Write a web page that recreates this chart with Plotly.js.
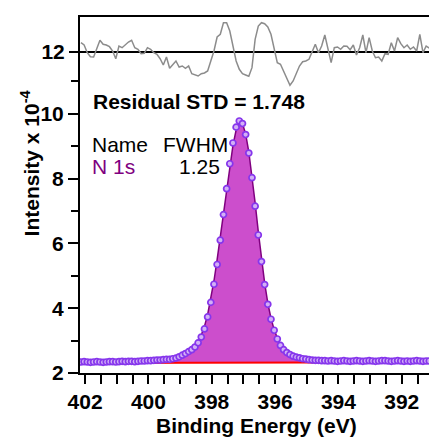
<!DOCTYPE html>
<html>
<head>
<meta charset="utf-8">
<script src="https://cdn.plot.ly/plotly-3.0.1.min.js"></script>
<style>html,body{margin:0;padding:0;background:#fff;}#chart{width:429px;height:442px;}</style>
</head>
<body>
<div id="chart"></div>
<script>
// Binding energy grid (eV): start and step of the measured points
const energyStart = 402.13;
const energyStep = -0.1;

// Measured intensity (x 10^-4)
const intensity = [
  2.34,2.35,2.34,2.33,2.34,2.35,2.34,2.33,2.34,2.35,
  2.35,2.34,2.35,2.36,2.35,2.36,2.36,2.35,2.36,2.37,
  2.37,2.38,2.38,2.39,2.40,2.40,2.41,2.42,2.42,2.44,
  2.46,2.50,2.55,2.60,2.66,2.72,2.80,2.93,3.11,3.36,
  3.73,4.18,4.74,5.35,6.10,6.89,7.69,8.46,9.10,9.59,
  9.78,9.70,9.36,8.79,8.03,7.15,6.26,5.44,4.73,4.12,
  3.66,3.32,3.05,2.85,2.72,2.63,2.57,2.52,2.49,2.47,
  2.44,2.43,2.41,2.40,2.39,2.39,2.38,2.38,2.37,2.38,
  2.37,2.36,2.37,2.38,2.37,2.36,2.37,2.38,2.37,2.36,
  2.37,2.38,2.37,2.36,2.37,2.38,2.38,2.37,2.36,2.37,
  2.38,2.37,2.36,2.37,2.36,2.37,2.38,2.37,2.36,2.37,2.37
];

// Fit envelope (N 1s component + background)
const fitEnvelope = [
  2.335,2.336,2.337,2.338,2.339,2.340,2.341,2.342,2.343,2.344,
  2.346,2.347,2.349,2.350,2.352,2.354,2.357,2.359,2.362,2.366,
  2.370,2.374,2.379,2.385,2.392,2.400,2.410,2.422,2.437,2.456,
  2.48,2.51,2.55,2.60,2.66,2.74,2.84,2.98,3.17,3.44,
  3.80,4.27,4.84,5.50,6.22,6.97,7.72,8.42,9.03,9.50,
  9.76,9.70,9.38,8.83,8.10,7.25,6.36,5.52,4.78,4.16,
  3.69,3.34,3.08,2.89,2.76,2.66,2.59,2.54,2.50,2.47,
  2.45,2.43,2.42,2.41,2.40,2.395,2.39,2.385,2.38,2.378,
  2.376,2.374,2.372,2.370,2.369,2.368,2.367,2.366,2.365,2.364,
  2.363,2.362,2.361,2.361,2.360,2.360,2.359,2.359,2.358,2.358,
  2.358,2.357,2.357,2.357,2.356,2.356,2.356,2.356,2.355,2.355,2.355
];

// Background line endpoints
const backgroundEnergy = [402.13, 391.13];
const backgroundValue = [2.31, 2.33];

// Residual (arbitrary units, zero = reference line)
const residual = [
  0.93,0.7,-0.07,-0.47,-0.5,0.43,1.17,0.77,0.7,0.53,
  0.1,-0.67,0.6,0.43,0.77,1.0,1.17,0.43,0.27,-0.17,
  -0.13,0.43,0.27,-0.07,-0.23,-0.67,-1.3,-0.5,-1.63,-1.23,
  -0.9,-1.5,-1.4,-1.63,-1.4,-2.17,-2.3,-2.4,-2.17,-2.1,
  -1.9,-0.9,0.1,1.5,1.77,2.93,2.93,2.1,0.6,-0.9,
  -1.73,-2.17,-2.3,-2.43,-1.57,1.27,2.6,2.93,2.83,2.5,
  1.77,0.43,-1.07,-1.23,-1.97,-2.73,-3.33,-2.9,-2.23,-1.4,
  -0.97,-0.9,-0.73,0.1,0.77,-0.07,0.6,1.7,0.27,-1.07,
  0.43,0.5,0.27,0.6,0.57,0.23,0.7,-0.3,0.43,1.7,
  -0.07,1.43,0.1,-0.57,-0.5,-0.9,-0.17,-0.23,0.93,0.1,
  1.43,0.83,0.43,0.7,0.27,0.5,0.1,1.77,-0.07,0.6,0.4
];

const xTicks = [402, 400, 398, 396, 394, 392];
const yTicks = [2, 4, 6, 8, 10];
const yMinorTicks = [3, 5, 7, 9, 11];
const residualAxisTick = [12];

const peakName = "N 1s";
const peakFWHM = "1.25";
const residualSTD = "1.748";

const FONT = "Liberation Sans, Arial, sans-serif";

const traces = [
  {
    x: backgroundEnergy, y: backgroundValue, mode: "lines",
    line: {color: "#FF0000", width: 2}, hoverinfo: "skip", showlegend: false
  },
  {
    x0: energyStart, dx: energyStep, y: fitEnvelope, mode: "lines",
    fill: "tonexty", fillcolor: "#CC4ECC",
    line: {color: "#800080", width: 1.5}, showlegend: false
  },
  {
    x0: energyStart, dx: energyStep, y: intensity, mode: "markers",
    marker: {symbol: "circle", size: 6, color: "#D2B0F6",
             line: {color: "#8636EC", width: 1.7}},
    showlegend: false
  },
  {
    x0: energyStart, dx: energyStep, y: residual, yaxis: "y3", mode: "lines",
    line: {color: "#8C8C8C", width: 1.5}, showlegend: false
  },
  // empty trace so the residual-panel axis (y2) is laid out
  { x: [], y: [], yaxis: "y2", mode: "lines", showlegend: false, hoverinfo: "skip" }
];

const tickFont = {family: FONT, size: 21, color: "#000", weight: "bold"};

const layout = {
  width: 429, height: 442,
  margin: {l: 80, r: 0, t: 17, b: 69},
  paper_bgcolor: "#fff", plot_bgcolor: "#fff",
  showlegend: false,
  xaxis: {
    range: [402.16, 391.14], tickmode: "array", tickvals: xTicks,
    ticks: "outside", ticklen: 9, tickwidth: 2, tickcolor: "#000",
    minor: {dtick: 0.5, tick0: 392, ticks: "outside", ticklen: 9, tickwidth: 2, tickcolor: "#000", showgrid: false},
    showline: true, linecolor: "#000", linewidth: 2, mirror: true,
    showgrid: false, zeroline: false, tickfont: tickFont
  },
  yaxis: {
    range: [2.0, 12.99], tickmode: "array", tickvals: yTicks,
    ticks: "outside", ticklen: 10, tickwidth: 2, tickcolor: "#000",
    minor: {tickmode: "array", tickvals: yMinorTicks, ticks: "outside", ticklen: 7, tickwidth: 2, tickcolor: "#000", showgrid: false},
    showline: true, linecolor: "#000", linewidth: 2,
    showgrid: false, zeroline: false, tickfont: tickFont
  },
  yaxis2: {
    overlaying: "y", side: "left", anchor: "x", range: [2.093, 13.08],
    tickmode: "array", tickvals: residualAxisTick,
    ticks: "outside", ticklen: 10, tickwidth: 2, tickcolor: "#000",
    showline: false, showgrid: false, zeroline: false, tickfont: tickFont
  },
  yaxis3: {
    overlaying: "y", side: "left", range: [-32.1, 3.5],
    showticklabels: false, ticks: "", showline: false, showgrid: false,
    zeroline: true, zerolinecolor: "#000", zerolinewidth: 2
  },
  annotations: [
    {text: "Residual STD = " + residualSTD, xref: "paper", yref: "paper",
     x: 0.0324, y: 0.764, xanchor: "left", yanchor: "middle", showarrow: false,
     font: {family: FONT, size: 21, color: "#000", weight: "bold"}},
    {text: "Name", xref: "paper", yref: "paper", x: 0.0295, y: 0.643,
     xanchor: "left", yanchor: "middle", showarrow: false,
     font: {family: FONT, size: 21, color: "#000"}},
    {text: "FWHM", xref: "paper", yref: "paper", x: 0.232, y: 0.643,
     xanchor: "left", yanchor: "middle", showarrow: false,
     font: {family: FONT, size: 21, color: "#000"}},
    {text: peakName, xref: "paper", yref: "paper", x: 0.0295, y: 0.58,
     xanchor: "left", yanchor: "middle", showarrow: false,
     font: {family: FONT, size: 21, color: "#800080"}},
    {text: peakFWHM, xref: "paper", yref: "paper", x: 0.278, y: 0.58,
     xanchor: "left", yanchor: "middle", showarrow: false,
     font: {family: FONT, size: 21, color: "#000"}},
    {text: "Intensity x 10<sup>-4</sup>", xref: "paper", yref: "paper",
     x: -0.143, y: 0.589, xanchor: "center", yanchor: "middle", textangle: -90,
     showarrow: false, font: {family: FONT, size: 21, color: "#000", weight: "bold"}},
    {text: "Binding Energy (eV)", xref: "paper", yref: "paper",
     x: 0.5057, y: -0.148, xanchor: "center", yanchor: "middle",
     showarrow: false, font: {family: FONT, size: 21, color: "#000", weight: "bold"}}
  ]
};

Plotly.newPlot("chart", traces, layout, {staticPlot: true, displayModeBar: false});
</script>
</body>
</html>
